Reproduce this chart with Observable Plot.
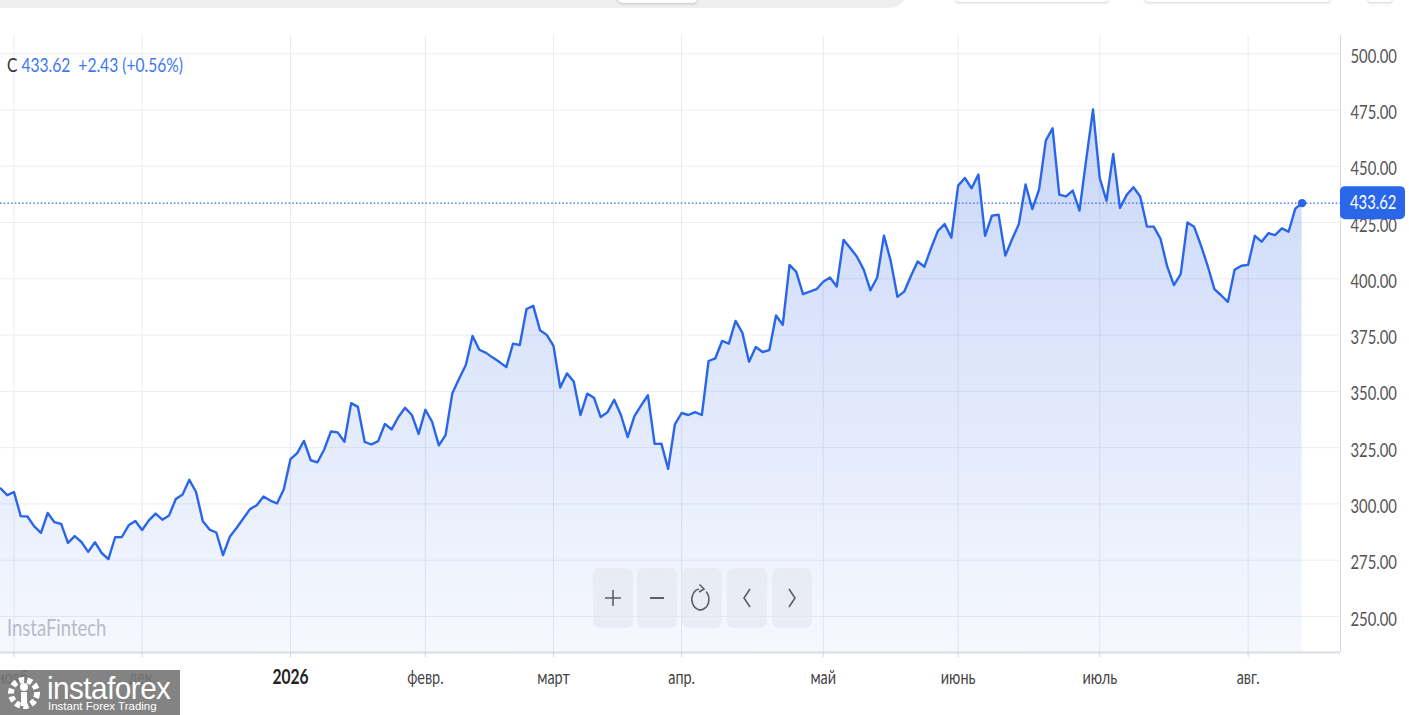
<!DOCTYPE html>
<html>
<head>
<meta charset="utf-8">
<script src="https://cdn.jsdelivr.net/npm/d3@7"></script>
<script src="https://cdn.jsdelivr.net/npm/@observablehq/plot@0.6"></script>
<style>
  html, body { margin: 0; padding: 0; background: #fff; }
  body { width: 1409px; height: 715px; overflow: hidden; position: relative; font-family: Lato, "Open Sans", sans-serif; }
  #chart { position: absolute; left: 0; top: 0; }
  .abs { position: absolute; }
  #topbar { left: -20px; top: -30px; width: 926px; height: 38px; background: #efefef; border-radius: 0 0 16px 16px; }
  #pill { left: 617px; top: -10px; width: 81px; height: 13px; background: #fff; border-radius: 6px; box-shadow: 0 1px 3px rgba(0,0,0,0.18); }
  .tbox { top: -20px; height: 21px; background: #fff; border: 1px solid #e2e2e2; border-radius: 4px; box-shadow: 0 1px 2px rgba(0,0,0,0.08); }
  #legend { left: 7px; top: 53px; font-size: 19.5px; line-height: 24px; white-space: pre; color: #3d78f0; transform: scaleX(0.8); transform-origin: 0 0; }
  #legend .c { color: #333; }
  #wm { left: 7px; top: 614px; font-size: 22.5px; color: #b7bbc6; line-height: 28px; transform: scaleX(0.82); transform-origin: 0 0; }
  .btn { top: 568px; width: 40px; height: 60px; border-radius: 7px; background: rgba(226,230,238,0.6); display: flex; align-items: center; justify-content: center; }
  .btn svg { display: block; }
  #logo { left: 0; top: 670px; width: 180px; height: 45px; background: rgba(118,118,118,0.9); color: #fff; }
  #logo .big { position: absolute; left: 47px; top: 2px; font-size: 32px; line-height: 32px; font-family: "Liberation Sans", "DejaVu Sans", sans-serif; letter-spacing: -0.6px; transform: scaleX(0.93); transform-origin: 0 0; }
  #logo .small { position: absolute; left: 48px; top: 30px; font-size: 11.5px; line-height: 13px; font-family: "Liberation Sans", "DejaVu Sans", sans-serif; }
  #logo svg { position: absolute; left: 4px; top: 4px; }
</style>
</head>
<body>
<div id="chart"></div>

<div class="abs" id="topbar"></div>
<div class="abs" id="pill"></div>
<div class="abs tbox" style="left:955px;width:152px"></div>
<div class="abs tbox" style="left:1144px;width:185px"></div>
<div class="abs tbox" style="left:1367px;width:24px"></div>

<div class="abs" id="legend"><span class="c">C</span> <span id="lg-val"></span>  <span id="lg-chg"></span> <span id="lg-pct"></span></div>
<div class="abs" id="wm">InstaFintech</div>

<div class="abs btn" style="left:593px"><svg width="20" height="20"><path d="M10 2V18M2 10H18" stroke="#5b5f66" stroke-width="1.6"/></svg></div>
<div class="abs btn" style="left:637px"><svg width="20" height="20"><path d="M3 10H17" stroke="#5b5f66" stroke-width="2"/></svg></div>
<div class="abs btn" style="left:682px"><svg width="26" height="34"><path d="M17 10.5 A8.5 10.5 0 1 1 10 8" fill="none" stroke="#5b5f66" stroke-width="1.6"/><path d="M10.5 3.5 L15 8 L10 11" fill="none" stroke="#5b5f66" stroke-width="1.6"/></svg></div>
<div class="abs btn" style="left:727px"><svg width="16" height="24"><path d="M11 3 L5 12 L11 21" fill="none" stroke="#5b5f66" stroke-width="1.6"/></svg></div>
<div class="abs btn" style="left:772px"><svg width="16" height="24"><path d="M5 3 L11 12 L5 21" fill="none" stroke="#5b5f66" stroke-width="1.6"/></svg></div>

<div class="abs" id="logo">
  <svg width="40" height="38" viewBox="0 0 40 38">
    <circle cx="20" cy="19" r="13" fill="none" stroke="#fff" stroke-width="6" stroke-dasharray="5 3"/>
    <circle cx="20" cy="13" r="4" fill="#fff"/>
    <rect x="17" y="18" width="6" height="14" fill="#fff"/>
  </svg>
  <div class="big">instaforex</div>
  <div class="small">Instant Forex Trading</div>
</div>

<script>
// ---- data (closing prices per trading bar) ----
const closes = [
  306.9, 303.9, 305.3, 294.6, 294.4, 290.0, 287.1, 296.0, 291.9, 291.1,
  282.7, 285.7, 283.1, 278.7, 283.0, 278.2, 275.5, 285.2, 285.3, 290.5,
  292.4, 288.4, 292.7, 295.7, 293.0, 294.9, 302.2, 304.2, 310.7, 305.3,
  292.3, 288.6, 287.3, 277.3, 285.4, 289.3, 293.5, 297.7, 299.4, 303.3,
  301.5, 300.2, 306.4, 319.9, 322.6, 328.0,
  319.4, 318.5, 324.2, 332.2, 331.8, 327.6, 344.8, 343.1, 327.6, 326.4,
  327.9, 335.5, 333.1, 338.6, 342.7, 339.5, 331.1, 341.8, 336.5, 326.0,
  330.6, 349.2, 355.6, 361.7, 374.6, 368.5, 367.1, 365.0, 363.0, 360.8,
  371.2, 370.6, 386.6, 388.0, 377.2, 375.1, 370.2, 351.7, 358.0, 354.4,
  339.5, 349.0, 347.2, 338.6, 340.7, 346.3, 339.5, 329.7, 339.0, 343.8,
  348.3, 326.7, 326.8, 315.6, 335.3, 340.4,
  339.5, 340.8, 339.5, 363.5, 364.7, 372.4, 371.2, 381.3, 376.1, 363.2,
  369.7, 367.5, 368.3, 383.7, 379.6, 406.2, 403.1, 393.2, 394.3, 395.4,
  398.7, 400.6, 396.6, 417.3, 413.7, 409.8, 404.1, 394.9, 400.6, 419.2,
  408.0, 392.0, 394.3, 401.3, 407.7, 405.4, 413.7, 421.3, 424.3, 418.3,
  441.4, 444.8, 440.2, 446.3, 419.1, 428.0, 428.5, 410.3, 417.6, 424.3,
  441.9, 431.0, 439.6, 461.4, 466.9, 437.4, 436.6, 439.2, 430.3, 453.2,
  475.2, 444.7, 434.7, 455.5, 431.5, 437.3, 440.7, 436.6, 423.2, 423.2,
  417.9, 405.5, 397.2, 402.1, 425.0, 423.1, 414.9, 405.8, 395.4, 392.7,
  389.7, 404.0, 405.8, 406.2, 419.1, 416.5, 420.3, 419.4, 422.4, 420.9,
  431.19, 433.62
];
const tickIndex  = [2, 21, 43, 63, 82, 101, 122, 142, 163, 185];
const tickLabels = ["нояб.", "дек.", "2026", "февр.", "март", "апр.", "май", "июнь", "июль", "авг."];
const yearLabels = ["2026"];
const yTicks = [250, 275, 300, 325, 350, 375, 400, 425, 450, 475, 500];
const lastChange = 2.43;
const lastChangePct = 0.56;

// ---- view settings ----
const xDomain = [0, 198.7];
const yDomain = [234.0, 508.1];
const BLUE = "#2a66e8";
const FONT = 'Lato, "Open Sans", sans-serif';
const NARROW = 0.78;

const data = closes.map((v, i) => ({i, v}));
const last = data[data.length - 1];
const ticks = tickIndex.map((i, k) => ({i, label: tickLabels[k], year: yearLabels.includes(tickLabels[k])}));

document.getElementById("lg-val").textContent = last.v.toFixed(2);
document.getElementById("lg-chg").textContent = "+" + lastChange.toFixed(2);
document.getElementById("lg-pct").textContent = "(+" + lastChangePct.toFixed(2) + "%)";

const NS = "http://www.w3.org/2000/svg";
function gradientDefs() {
  const defs = document.createElementNS(NS, "defs");
  defs.innerHTML = `<linearGradient id="areaFill" x1="0" y1="0" x2="0" y2="1">
      <stop offset="0" stop-color="#4a78e8" stop-opacity="0.30"/>
      <stop offset="1" stop-color="#4a78e8" stop-opacity="0.05"/>
    </linearGradient>`;
  return defs;
}
function priceTag(index, scales, values, dims) {
  const g = document.createElementNS(NS, "g");
  const y = scales.y(last.v);
  const x0 = dims.width - dims.marginRight;
  g.innerHTML = `<rect x="${x0}" y="${y - 16.5}" width="65" height="33" rx="5" fill="${BLUE}"/>
    <text x="${x0 + 10}" y="${y}" dy="0.36em" text-anchor="start" fill="#fff" font-size="19">${last.v.toFixed(2)}</text>`;
  return g;
}

const plot = Plot.plot({
  width: 1409,
  height: 715,
  marginLeft: 0,
  marginRight: 69,
  marginTop: 35,
  marginBottom: 63,
  style: {fontFamily: FONT, background: "transparent", overflow: "visible"},
  x: {type: "linear", domain: xDomain, axis: null},
  y: {domain: yDomain, axis: null},
  marks: [
    gradientDefs,
    Plot.gridY(yTicks, {stroke: "#eceef2", strokeOpacity: 1}),
    Plot.gridX(tickIndex, {stroke: "#e8eaef", strokeOpacity: 1}),
    Plot.areaY(data, {x: "i", y1: yDomain[0], y2: "v", fill: "url(#areaFill)"}),
    Plot.lineY(data, {x: "i", y: "v", stroke: BLUE, strokeWidth: 2.4, strokeLinejoin: "round"}),
    Plot.ruleY([last], {y: "v", stroke: BLUE, strokeWidth: 1.3, strokeDasharray: "1.5,2.2"}),
    Plot.dot([last], {x: "i", y: "v", r: 4.2, fill: BLUE}),
    Plot.ruleX([xDomain[1]], {stroke: "#d3d7de", strokeWidth: 1}),
    Plot.ruleY([yDomain[0]], {stroke: "#d9dde3", strokeWidth: 2}),
    Plot.axisX(tickIndex, {anchor: "bottom", tickSize: 5, tickFormat: () => "", stroke: "#cfd3da", label: null}),
    Plot.axisY(yTicks, {anchor: "right", tickSize: 0, tickPadding: 10, tickFormat: d => d.toFixed(2),
      fontSize: 19, fill: "#555", dy: 3, label: null}),
    Plot.text(ticks.filter(d => !d.year), {x: "i", text: "label", frameAnchor: "bottom", dy: 31,
      fontSize: 18.5, fill: "#444"}),
    Plot.text(ticks.filter(d => d.year), {x: "i", text: "label", frameAnchor: "bottom", dy: 31,
      fontSize: 20, fontWeight: "bold", fill: "#222"}),
    priceTag
  ]
});
// narrow every text horizontally around its own anchor (the reference uses a condensed face)
plot.querySelectorAll("text").forEach(t => {
  const x = +(t.getAttribute("x") || 0);
  const tr = t.getAttribute("transform") || "";
  t.setAttribute("transform", `${tr} translate(${x},0) scale(${NARROW},1) translate(${-x},0)`);
});
document.getElementById("chart").appendChild(plot);
</script>
</body>
</html>
